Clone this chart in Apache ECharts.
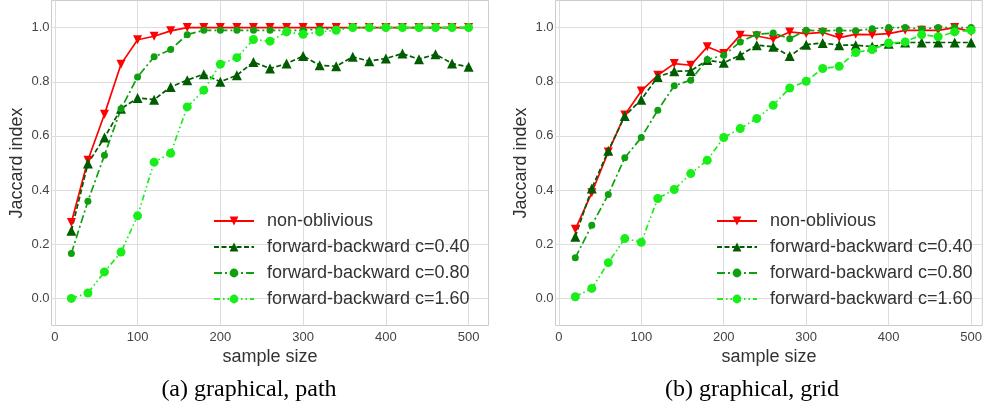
<!DOCTYPE html>
<html lang="en">
<head>
    <meta charset="UTF-8">
    <title>Jaccard index vs sample size</title>
    <script src="https://cdn.jsdelivr.net/npm/echarts@6/dist/echarts.min.js"></script>
    <style>
        * { margin: 0; padding: 0; }
        body { background: #fff; }
        #main { width: 985px; height: 414px; }
    </style>
</head>
<body>
    <div id="main"></div>

<script>
    // sample sizes (x) shared by both panels
    var sampleSizes = [20, 40, 60, 80, 100, 120, 140, 160, 180, 200, 220, 240, 260,
                       280, 300, 320, 340, 360, 380, 400, 420, 440, 460, 480, 500];
    var xTicks = [0, 100, 200, 300, 400, 500];
    var yTicks = [0.0, 0.2, 0.4, 0.6, 0.8, 1.0];
    var seriesNames = ['non-oblivious', 'forward-backward c=0.40',
                       'forward-backward c=0.80', 'forward-backward c=1.60'];
    var captions = ['(a) graphical, path', '(b) graphical, grid'];

    // (a) path
    var pathNonObl = [0.28, 0.51, 0.68, 0.865, 0.955, 0.968, 0.988, 1.0, 1.0, 1.0, 1.0, 1.0, 1.0,
                      1.0, 1.0, 1.0, 1.0, 1.0, 1.0, 1.0, 1.0, 1.0, 1.0, 1.0, 1.0];
    var pathC040 = [0.25, 0.498, 0.594, 0.70, 0.74, 0.734, 0.781, 0.806, 0.828, 0.80, 0.824, 0.873, 0.849,
                    0.867, 0.895, 0.861, 0.857, 0.892, 0.876, 0.886, 0.904, 0.883, 0.902, 0.867, 0.855];
    var pathC080 = [0.166, 0.359, 0.529, 0.70, 0.818, 0.892, 0.919, 0.974, 0.99, 0.99, 0.99, 0.99, 0.99,
                    0.99, 0.99, 0.995, 0.995, 1.0, 1.0, 1.0, 1.0, 1.0, 1.0, 1.0, 1.0];
    var pathC160 = [0.0, 0.02, 0.098, 0.171, 0.305, 0.503, 0.536, 0.707, 0.769, 0.865, 0.889, 0.956, 0.95,
                    0.984, 0.975, 0.984, 0.99, 1.0, 1.0, 1.0, 1.0, 1.0, 1.0, 1.0, 1.0];

    // (b) grid
    var gridNonObl = [0.255, 0.39, 0.541, 0.677, 0.766, 0.824, 0.867, 0.861, 0.929, 0.904, 0.972, 0.969, 0.957,
                      0.984, 0.978, 0.982, 0.963, 0.975, 0.974, 0.978, 0.99, 0.99, 0.99, 1.0, 0.985];
    var gridC040 = [0.228, 0.406, 0.545, 0.674, 0.734, 0.818, 0.839, 0.84, 0.88, 0.87, 0.898, 0.935, 0.929,
                    0.895, 0.937, 0.943, 0.935, 0.935, 0.93, 0.94, 0.945, 0.945, 0.945, 0.945, 0.945];
    var gridC080 = [0.15, 0.27, 0.384, 0.519, 0.594, 0.695, 0.785, 0.806, 0.882, 0.898, 0.947, 0.975, 0.98,
                    0.959, 0.99, 0.988, 0.99, 0.988, 0.996, 1.0, 1.0, 0.995, 1.0, 1.0, 1.0];
    var gridC160 = [0.006, 0.037, 0.132, 0.221, 0.207, 0.369, 0.402, 0.461, 0.51, 0.594, 0.627, 0.664, 0.713,
                    0.777, 0.802, 0.849, 0.857, 0.908, 0.919, 0.943, 0.947, 0.974, 0.966, 0.984, 0.99];

    var panels = [
        [pathNonObl, pathC040, pathC080, pathC160],
        [gridNonObl, gridC040, gridC080, gridC160]
    ];

    // per series look: colour, marker, dash
    var looks = [
        { color: '#ff0000', symbol: 'triangle', rotate: 180, size: 9, dash: 'solid' },
        { color: '#005c00', symbol: 'triangle', rotate: 0, size: 10, dash: [5, 2.5] },
        { color: '#0fa00f', symbol: 'circle', rotate: 0, size: 7, dash: [8, 3, 2, 3] },
        { color: '#1aee1a', symbol: 'circle', rotate: 0, size: 9, dash: [6, 3, 1.5, 3, 1.5, 3] }
    ];

    var grids = [
        { left: 51.5, top: 0.5, width: 437, height: 325 },
        { left: 555.5, top: 0.5, width: 428, height: 325 }
    ];
    var xMax = [524, 513.5];

    var labelFont = 'Liberation Sans';

    function pairs(ys) {
        var out = [];
        for (let i = 0; i < sampleSizes.length; i++) out.push([sampleSizes[i], ys[i]]);
        return out;
    }

    var xAxes = [], yAxes = [], series = [], legends = [], graphics = [];
    for (let p = 0; p < 2; p++) {
        grids[p].show = true;
        grids[p].borderColor = '#cccccc';
        grids[p].borderWidth = 1;

        xAxes.push({
            type: 'value', gridIndex: p, min: -4, max: xMax[p],
            name: 'sample size', nameLocation: 'middle', nameGap: 20,
            nameTextStyle: { fontFamily: labelFont, fontSize: 18, color: '#333' },
            axisLine: { show: false },
            axisTick: { show: false, customValues: xTicks },
            axisLabel: { customValues: xTicks, fontFamily: labelFont, fontSize: 13, color: '#444', margin: 5 },
            splitLine: { show: true, lineStyle: { color: '#dddddd', width: 1 } }
        });
        yAxes.push({
            type: 'value', gridIndex: p, min: -0.1, max: 1.1,
            name: 'Jaccard index', nameLocation: 'middle', nameGap: 25,
            nameTextStyle: { fontFamily: labelFont, fontSize: 18, color: '#333' },
            axisLine: { show: false },
            axisTick: { show: false, customValues: yTicks },
            axisLabel: {
                customValues: yTicks, fontFamily: labelFont, fontSize: 13, color: '#444', margin: 2,
                formatter: function (v) { return v.toFixed(1); }
            },
            splitLine: { show: true, lineStyle: { color: '#dddddd', width: 1 } }
        });

        for (let s = 0; s < 4; s++) {
            let lk = looks[s];
            series.push({
                name: seriesNames[s], type: 'line',
                xAxisIndex: p, yAxisIndex: p,
                data: pairs(panels[p][s]),
                symbol: lk.symbol, symbolSize: lk.size, symbolRotate: lk.rotate,
                showAllSymbol: true,
                lineStyle: { color: lk.color, width: 1.7, type: lk.dash },
                itemStyle: { color: lk.color, borderWidth: 0 },
                emphasis: { disabled: true }
            });
        }

        legends.push({
            data: seriesNames, orient: 'vertical',
            left: p === 0 ? 213 : 716, top: 212,
            padding: 0, itemWidth: 40, itemHeight: 11, itemGap: 8,
            selectedMode: false,
            textStyle: { fontFamily: labelFont, fontSize: 18, color: '#333', padding: [0, 0, 0, 8] }
        });

        graphics.push({
            type: 'text', x: p === 0 ? 249 : 752, y: 390,
            style: {
                text: captions[p], fill: '#000', align: 'center', verticalAlign: 'middle',
                fontFamily: 'Liberation Serif', fontSize: 24
            }
        });
    }

    var myChart = echarts.init(document.getElementById('main'));
    myChart.setOption({
        animation: false,
        grid: grids,
        xAxis: xAxes,
        yAxis: yAxes,
        legend: legends,
        series: series,
        graphic: graphics
    });
</script>
</body>
</html>
